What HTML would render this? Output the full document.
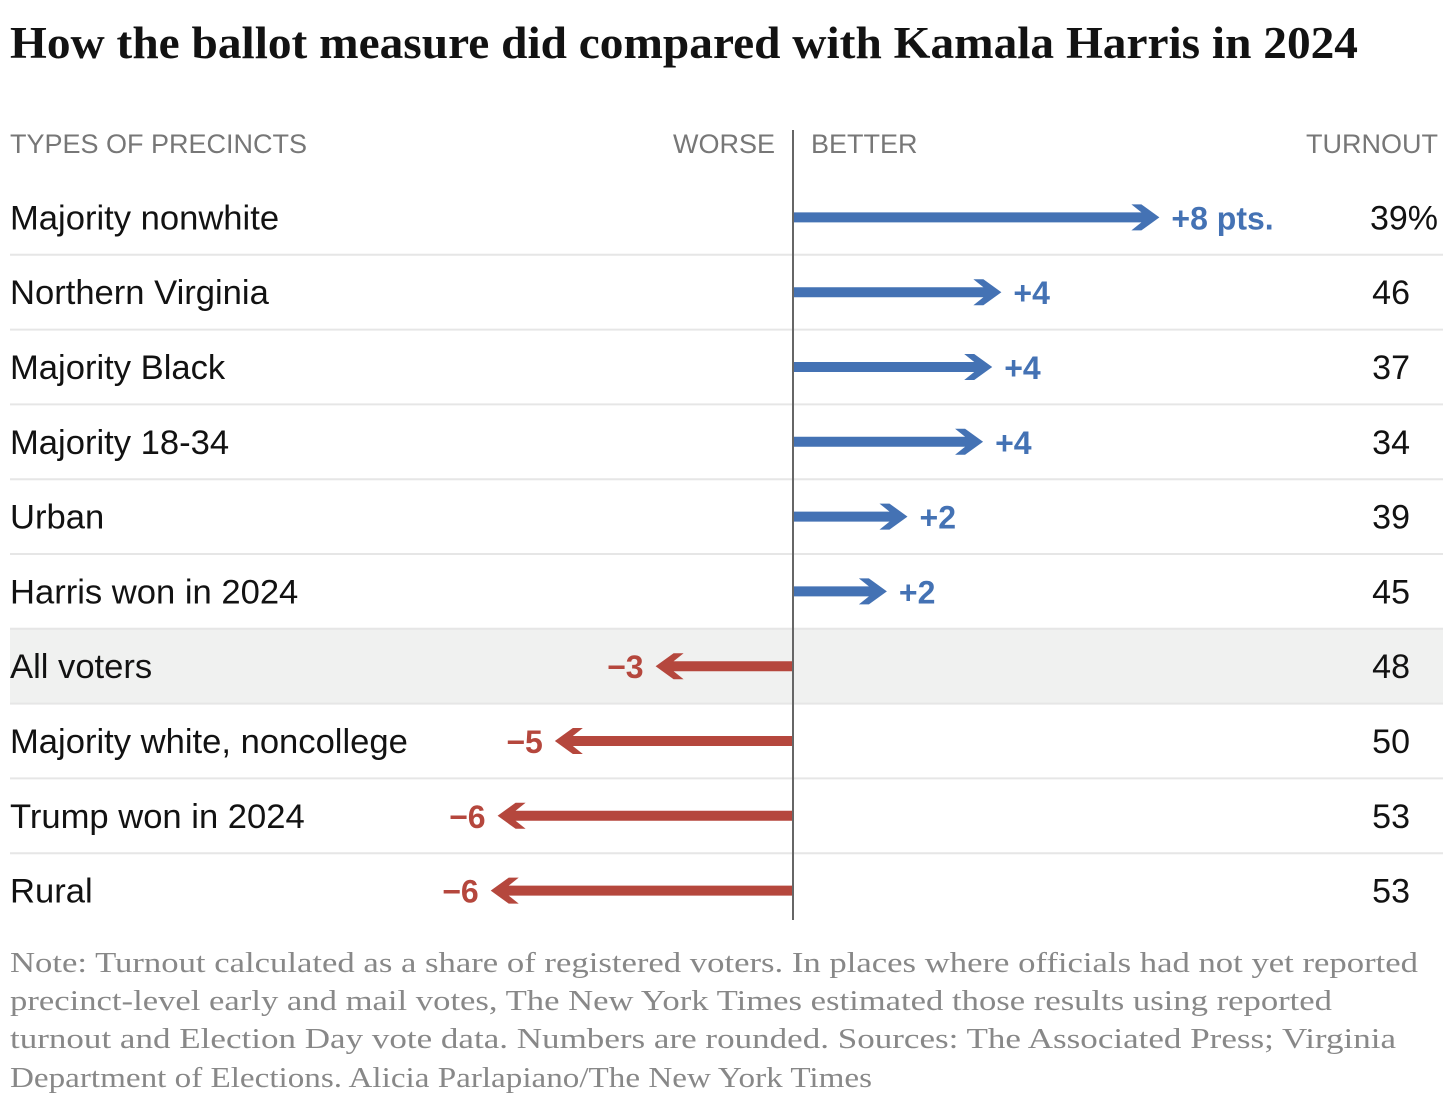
<!DOCTYPE html>
<html><head><meta charset="utf-8"><style>
body{margin:0;background:#fff;width:1456px;height:1095px;overflow:hidden;font-family:"Liberation Sans",sans-serif}
</style></head><body>
<svg width="1456" height="1095" id="chart">
<text x="10" y="58" font-family="Liberation Serif,serif" font-weight="bold" font-size="45" fill="#121212" textLength="1348" lengthAdjust="spacingAndGlyphs">How the ballot measure did compared with Kamala Harris in 2024</text>
<text x="10" y="153" font-size="27" fill="#777" textLength="297" lengthAdjust="spacingAndGlyphs">TYPES OF PRECINCTS</text>
<text x="775" y="153" font-size="27" fill="#777" text-anchor="end">WORSE</text>
<text x="811" y="153" font-size="27" fill="#777">BETTER</text>
<text x="1438" y="153" font-size="27" fill="#777" text-anchor="end">TURNOUT</text>
<g id="rows"></g>
<line x1="793" y1="130" x2="793" y2="920" stroke="#666" stroke-width="2"/>
<g font-family="Liberation Serif,serif" font-size="29" fill="#888" lengthAdjust="spacingAndGlyphs">
<text x="10" y="972" textLength="1408" lengthAdjust="spacingAndGlyphs">Note: Turnout calculated as a share of registered voters. In places where officials had not yet reported</text>
<text x="10" y="1010" textLength="1322" lengthAdjust="spacingAndGlyphs">precinct-level early and mail votes, The New York Times estimated those results using reported</text>
<text x="10" y="1048" textLength="1386" lengthAdjust="spacingAndGlyphs">turnout and Election Day vote data. Numbers are rounded.  Sources: The Associated Press; Virginia</text>
<text x="10" y="1087" textLength="862" lengthAdjust="spacingAndGlyphs">Department of Elections.  Alicia Parlapiano/The New York Times</text>
</g>
</svg>
<script>
const categories=["Majority nonwhite","Northern Virginia","Majority Black","Majority 18-34","Urban","Harris won in 2024","All voters","Majority white, noncollege","Trump won in 2024","Rural"];
const values=[8,4.55,4.35,4.15,2.5,2.05,-3.0,-5.2,-6.45,-6.6];
const valueLabels=["+8 pts.","+4","+4","+4","+2","+2","\u22123","\u22125","\u22126","\u22126"];
const turnout=["39%","46","37","34","39","45","48","50","53","53"];
const highlightIndex=6;
const NS="http://www.w3.org/2000/svg";
const x0=793, pxPerPt=45.8, rowTop=180, rowH=74.8;
const xScale=v=>x0+v*pxPerPt;
const yCenter=i=>rowTop+rowH*(i+0.5);
const g=document.getElementById('rows');
function mk(t,a){const e=document.createElementNS(NS,t);for(const k in a)e.setAttribute(k,a[k]);g.appendChild(e);return e;}
categories.forEach((c,i)=>{
  const y=yCenter(i);
  if(i===highlightIndex){
    const r=mk('rect',{x:10,y:y-rowH/2,width:1433,height:rowH,fill:'#f0f1f0'});
    
    
  }
  if(i>0){
    const l=mk('line',{x1:10,x2:1443,y1:y-rowH/2,y2:y-rowH/2,stroke:'#e6e6e6','stroke-width':2});
    
    
  }
  const lab=mk('text',{x:10,y:y+12,'font-size':34.6,fill:'#121212'});lab.textContent=c;
  
  
  const v=values[i], pos=v>=0, col=pos?'#4472b4':'#b5473d';
  const xe=xScale(v), d=pos?1:-1;
  const tip=xe, base=xe-d*22;
  const path=`M${x0},${y-5} L${base+d*4},${y-5} L${base-d*6},${y-13} L${base+d*4},${y-13} L${tip},${y} L${base+d*4},${y+13} L${base-d*6},${y+13} L${base+d*4},${y+5} L${x0},${y+5} Z`;
  const a=mk('path',{d:path,fill:col});
  
  
  const vt=mk('text',{x:xe+d*12,y:y+12,'font-size':32,'font-weight':'bold',fill:col,'text-anchor':pos?'start':'end'});vt.textContent=valueLabels[i];
  
  
  const tt=mk('text',{x:i===0?1438:1410,y:y+12,'font-size':34,fill:'#121212','text-anchor':'end'});tt.textContent=turnout[i];
  
  
});
</script>
</body></html>
